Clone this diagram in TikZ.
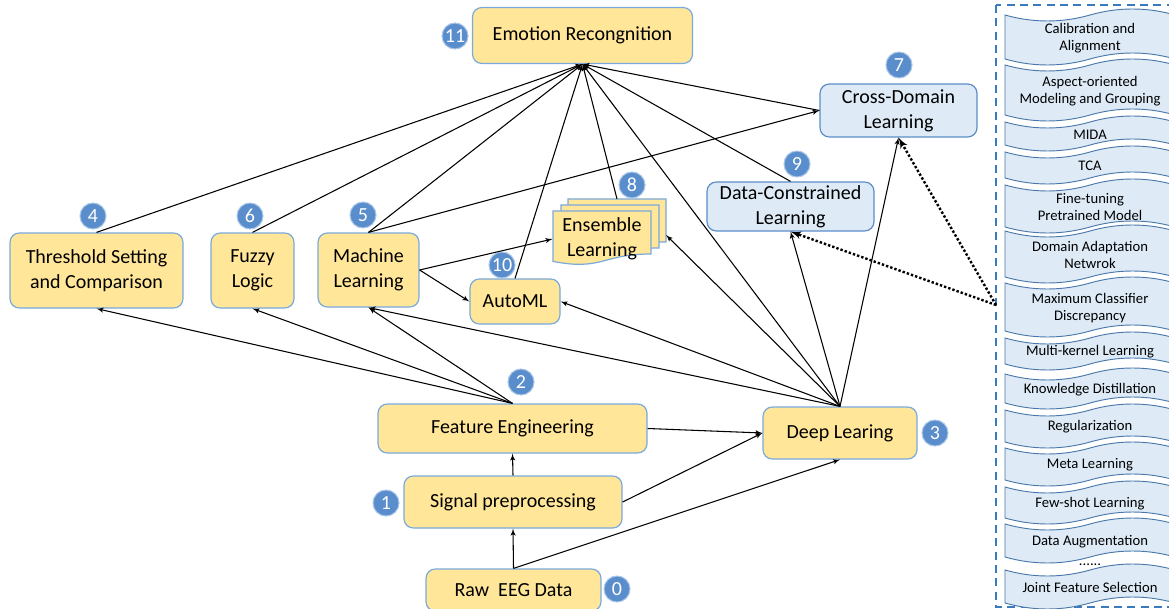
\documentclass[tikz,border=0pt]{standalone}
\usepackage{fontspec}
\setmainfont{Carlito}
\usetikzlibrary{shapes}
\usetikzlibrary{arrows}
\definecolor{boxyellow}{HTML}{FFE699}
\definecolor{boxblue}{HTML}{DEEBF7}
\definecolor{boxline}{HTML}{7AAADC}
\definecolor{boxlinedark}{HTML}{5B8EC8}
\definecolor{numblue}{HTML}{5A8DCB}
\definecolor{numline}{HTML}{A8C6E8}
\definecolor{tapeline}{HTML}{4A78AA}
\definecolor{frameblue}{HTML}{3A7BBF}
\tikzset{
	node_y/.style = {
		rectangle,
		rounded corners=7pt,
		align=center,
		inner sep=0pt,
		draw=boxline,
		fill=boxyellow,
		line width=0.9pt,
		font=\fontsize{15}{18.75}\selectfont
	},
	node_bl/.style = {
		node_y,
		fill=boxblue,
		draw=boxlinedark
	},
	node_txt/.style = {
		align=center,
		inner sep=0pt,
		font=\fontsize{15}{18.75}\selectfont
	},
	node_num/.style = {
		circle,
		inner sep=0pt,
		minimum size=19.5pt,
		fill=numblue,
		draw=numline,
		line width=0.8pt,
		text=white,
		font=\fontsize{15}{15}\selectfont
	},
	node_tape/.style = {
		align=center,
		inner sep=0pt,
		font=\fontsize{11}{12.75}\selectfont
	},
	tape_shape/.style = {
		-,
		draw=tapeline,
		fill=boxblue,
		line width=0.7pt
	},
	doc_shape/.style = {
		-,
		draw=boxline,
		fill=boxyellow,
		line width=0.9pt
	},
	panel_frame/.style = {
		-,
		draw=frameblue,
		line width=1.1pt,
		dash pattern=on 6pt off 4pt
	},
	edge_dot/.style = {
		line width=1.8pt,
		dash pattern=on 1.8pt off 1.5pt
	},
}
% one wavy item of the right-hand list: name, top, bottom, text
\newcommand{\tapeitem}[4]{%
	\draw [tape_shape] (1005,#2)
		.. controls (1033,{#2+8}) and (1062,{#2+8}) .. (1090,#2)
		.. controls (1118,{#2-8}) and (1147,{#2-8}) .. (1175,#2)
		-- (1175,#3)
		.. controls (1147,{#3-8}) and (1118,{#3-8}) .. (1090,#3)
		.. controls (1062,{#3+8}) and (1033,{#3+8}) .. (1005,#3)
		-- cycle;
	\node [node_tape] (#1) at (1090,{(#2+#3)/2+1}) {#4};
}
% one sheet of the ensemble stack: left, top
\newcommand{\enssheet}[2]{%
	\draw [doc_shape] (#1,#2) -- ({#1+98},#2) -- ({#1+98},{#2+43})
		.. controls ({#1+49},{#2+43}) and ({#1+49},{#2+60}) .. (#1,{#2+50.4})
		-- cycle;
}

\begin{document}
\begin{tikzpicture}[->,>=latex',x=0.75pt,y=-0.75pt,line width=0.8pt]
\useasboundingbox (0,0) rectangle (1169,609);

% main boxes
\node [node_y, minimum width=165pt, minimum height=42pt] (emo) at (582.5,35.5) {Emotion Recongnition};
\node [node_bl, minimum width=117.75pt, minimum height=39.75pt] (cross) at (898.5,110.5) {Cross-Domain\\Learning};
\node [node_bl, minimum width=125.25pt, minimum height=36.75pt] (datac) at (790.5,206.5) {Data-Constrained\\Learning};
\node [node_y, minimum width=129.75pt, minimum height=56.25pt] (thr) at (96.5,270.5) {Threshold Setting\\and Comparison};
\node [node_y, minimum width=62.25pt, minimum height=56.25pt] (fuzzy) at (252.5,270.5) {Fuzzy\\Logic};
\node [node_y, minimum width=75.75pt, minimum height=55.5pt] (ml) at (368.5,270) {Machine\\Learning};
\node [node_y, minimum width=67.5pt, minimum height=33.75pt] (automl) at (515,301.5) {AutoML};
\node [node_y, minimum width=201.75pt, minimum height=36.75pt] (feat) at (512.5,428.5) {Feature Engineering};
\node [node_y, minimum width=115.5pt, minimum height=39pt] (deep) at (840,433) {Deep Learing};
\node [node_y, minimum width=163.5pt, minimum height=39pt] (sig) at (513,502) {Signal preprocessing};
\node [node_y, minimum width=131.25pt, minimum height=31.5pt] (raw) at (513.5,590) {Raw~ EEG Data};

% ensemble stack
\enssheet{568}{199}
\enssheet{561}{205}
\enssheet{553}{211}
\node [node_txt, minimum width=73.5pt] (ens) at (602,239) {Ensemble\\Learning};
\coordinate (ens_top) at (617,199);
\coordinate (ens_right) at (666,235);

% numbers
\node [node_num] (num0) at (617,589) {0};
\node [node_num] (num1) at (386,503) {1};
\node [node_num] (num2) at (521,382) {2};
\node [node_num] (num3) at (935,433) {3};
\node [node_num] (num4) at (93,216) {4};
\node [node_num] (num5) at (363,215) {5};
\node [node_num] (num6) at (250,216) {6};
\node [node_num] (num7) at (899,65) {7};
\node [node_num] (num8) at (632,185) {8};
\node [node_num] (num9) at (797,164) {9};
\node [node_num] (num10) at (502,265) {10};
\node [node_num] (num11) at (455,36) {11};

% right-hand list
\draw [panel_frame] (996,5) rectangle (1190,607);
\tapeitem{cal}{15}{59}{Calibration and\\Alignment}
\tapeitem{aspect}{65}{115}{Aspect-oriented\\Modeling and Grouping}
\tapeitem{mida}{122}{145}{MIDA}
\tapeitem{tca}{152}{178}{TCA}
\tapeitem{finetune}{185}{227}{Fine-tuning\\Pretrained Model}
\tapeitem{dan}{231}{277}{Domain Adaptation\\Netwrok}
\tapeitem{mcd}{283}{331}{Maximum Classifier\\Discrepancy}
\tapeitem{mkl}{338}{364}{Multi-kernel Learning}
\tapeitem{kd}{374}{403}{Knowledge Distillation}
\tapeitem{reg}{410}{442}{Regularization}
\tapeitem{meta}{448}{480}{Meta Learning}
\tapeitem{fewshot}{487}{518}{Few-shot Learning}
\tapeitem{aug}{524}{557}{Data Augmentation}
\node [node_tape] (dots) at (1090,565) {......};
\tapeitem{jfs}{570}{603}{Joint Feature Selection}
\coordinate (panel_in) at (996,305);

% pipeline
\draw (raw.north) -- (sig.south);
\draw (raw.north) -- (deep.south);
\draw (sig.north) -- (feat.south);
\draw (sig.east) -- (deep.west);
\draw (feat.east) -- (deep.west);
\draw (feat.north) -- (thr.south);
\draw (feat.north) -- (fuzzy.south);
\draw (feat.north) -- (ml.south);
\draw (deep.north) -- (ml.south);
\draw (deep.north) -- (automl.east);
\draw (deep.north) -- (ens_right);
\draw (deep.north) -- (datac.south);
\draw (deep.north) -- (cross.south);
\draw (ml.east) -- (ens.west);
\draw (ml.east) -- (automl.west);
\draw (ml.north) -- (cross.west);

% into emotion recognition
\draw (thr.north) -- (emo.south);
\draw (fuzzy.north) -- (emo.south);
\draw (ml.north) -- (emo.south);
\draw (automl.north) -- (emo.south);
\draw (ens_top) -- (emo.south);
\draw (deep.north) -- (emo.south);
\draw (datac.north) -- (emo.south);
\draw (cross.west) -- (emo.south);

% from the list
\draw [edge_dot] (panel_in) -- (datac.south);
\draw [edge_dot] (panel_in) -- (cross.south);
\end{tikzpicture}
\end{document}
